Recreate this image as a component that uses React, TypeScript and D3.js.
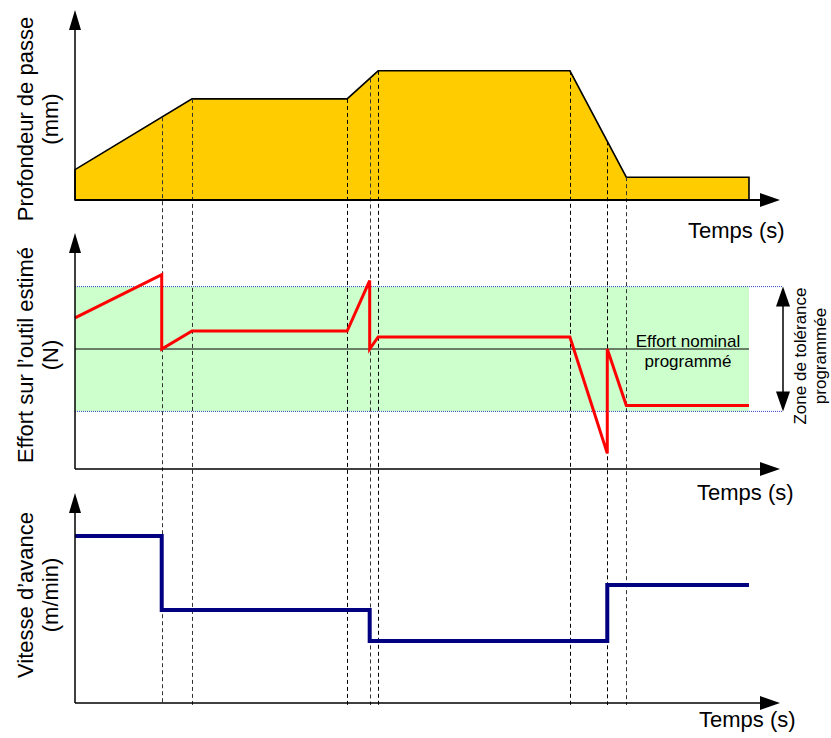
import React from "react";
import * as d3 from "d3";

// ---- Data (time in arbitrary units) ----
const eventTimes = [12.3, 16.6, 38.6, 41.8, 43.0, 70.2, 75.5, 78.2];
const eventDark = [false, false, true, false, true, true, true, false];

const depthT = [0, 16.6, 38.6, 43.0, 70.2, 78.2, 95.6];
const depthV = [1.6, 5.32, 5.32, 6.8, 6.8, 1.2, 1.2];

const forceT = [0, 12.3, 12.3, 16.6, 38.6, 41.8, 41.8, 43.0, 70.2, 75.5, 75.5, 78.2, 95.6];
const forceV = [1.3, 3.1, 0, 0.75, 0.75, 2.85, 0, 0.5, 0.5, -4.35, 0, -2.35, -2.35];
const tolerance = [-2.6, 2.6];
const nominal = 0;

const speedT = [0, 12.3, 41.8, 75.5, 95.6];
const speedV = [7.95, 4.43, 2.95, 5.62, 5.62];

const yLabels = [
  ["Profondeur de passe", "(mm)"],
  ["Effort sur l\u2019outil estimé", "(N)"],
  ["Vitesse d\u2019avance", "(m/min)"],
];
const timeLabel = "Temps (s)";
const nominalLabel = ["Effort nominal", "programmé"];
const zoneLabel = ["Zone de tolérance", "programmée"];

const FONT = "'Liberation Sans', Arial, Helvetica, sans-serif";

export default function App() {
  const x = d3.scaleLinear().domain([0, 100]).range([75, 780]);
  const yDepth = d3.scaleLinear().domain([0, 10]).range([200, 10]);
  const yForce = d3.scaleLinear().domain([-5, 5]).range([469, 229]);
  const ySpeed = d3.scaleLinear().domain([0, 10]).range([703, 493]);

  const panels = [
    { y0: 200, top: 10, label: yLabels[0], labelY: 119, temps: { x: 688, y: 238 } },
    { y0: 469, top: 233, label: yLabels[1], labelY: 355, temps: { x: 697, y: 500 } },
    { y0: 703, top: 493, label: yLabels[2], labelY: 595, temps: { x: 699, y: 727 } },
  ];

  const depthPts: [number, number][] = depthT.map((t, i) => [t, depthV[i]]);
  const areaPts: [number, number][] = [[0, 0], ...depthPts, [depthT[depthT.length - 1], 0]];
  const polyLine = d3
    .line<[number, number]>()
    .x((d) => x(d[0]))
    .y((d) => yDepth(d[1]));
  const depthPath = polyLine(areaPts) + "Z";

  const depthAt = (t: number) => {
    for (let i = 0; i < depthT.length - 1; i++) {
      if (t >= depthT[i] && t <= depthT[i + 1]) {
        const f = (t - depthT[i]) / (depthT[i + 1] - depthT[i]);
        return depthV[i] + f * (depthV[i + 1] - depthV[i]);
      }
    }
    return 0;
  };

  const forcePath = d3
    .line<number>()
    .x((_, i) => x(forceT[i]))
    .y((d) => yForce(d))(forceV);

  const speedPath = d3
    .line<number>()
    .x((_, i) => x(speedT[i]))
    .y((d) => ySpeed(d))
    .curve(d3.curveStepAfter)(speedV);

  const xEnd = x(depthT[depthT.length - 1]);

  return (
    <svg
      width={831}
      height={738}
      style={{ position: "absolute", left: 0, top: 0, background: "#fff" }}
      fontFamily={FONT}
    >
      {/* Tolerance band */}
      <rect
        x={x(0)}
        y={yForce(tolerance[1])}
        width={xEnd - x(0)}
        height={yForce(tolerance[0]) - yForce(tolerance[1])}
        fill="#CCFFCC"
      />
      {tolerance.map((v, i) => (
        <line
          key={i}
          x1={x(0)}
          x2={783}
          y1={yForce(v)}
          y2={yForce(v)}
          stroke="#3344cc"
          strokeWidth={1}
          strokeDasharray="1,1"
        />
      ))}
      <line x1={x(0)} x2={xEnd} y1={yForce(nominal)} y2={yForce(nominal)} stroke="#000" strokeWidth={1.2} />

      {/* Depth profile */}
      <path d={depthPath} fill="#FFCC00" stroke="#000" strokeWidth={1.6} strokeLinejoin="miter" />

      {/* Event dashed lines */}
      {eventTimes.map((t, i) => (
        <line
          key={i}
          x1={Math.round(x(t)) + 0.5}
          x2={Math.round(x(t)) + 0.5}
          y1={yDepth(depthAt(t))}
          y2={705}
          stroke={eventDark[i] ? "#000" : "#333"}
          strokeWidth={1}
          strokeDasharray="4,3"
        />
      ))}

      {/* Force and speed lines */}
      <path d={forcePath || ""} fill="none" stroke="#FF0000" strokeWidth={3} strokeLinejoin="miter" />
      <path d={speedPath || ""} fill="none" stroke="#000080" strokeWidth={4} strokeLinejoin="miter" />

      {/* Axes */}
      {panels.map((p, i) => (
        <g key={i}>
          <line x1={x(0)} x2={x(0)} y1={p.y0} y2={p.top + 18} stroke="#000" strokeWidth={1.5} />
          <path d={`M${x(0)},${p.top} L${x(0) - 6},${p.top + 20} L${x(0) + 6},${p.top + 20} Z`} fill="#000" />
          <line x1={x(0)} x2={762} y1={p.y0} y2={p.y0} stroke="#000" strokeWidth={i === 0 ? 2 : 1.5} />
          <path d={`M780,${p.y0} L760,${p.y0 - 7} L760,${p.y0 + 7} Z`} fill="#000" />
          <text x={p.temps.x} y={p.temps.y} fontSize={22} fill="#000">
            {timeLabel}
          </text>
          <g transform={`translate(33,${p.labelY}) rotate(-90)`}>
            <text x={0} y={0} textAnchor="middle" fontSize={22} fill="#000">
              {p.label[0]}
            </text>
            <text x={0} y={25} textAnchor="middle" fontSize={22} fill="#000">
              {p.label[1]}
            </text>
          </g>
        </g>
      ))}

      {/* Nominal label */}
      <text x={688} y={347} textAnchor="middle" fontSize={17} fill="#000">
        {nominalLabel[0]}
      </text>
      <text x={688} y={367} textAnchor="middle" fontSize={17} fill="#000">
        {nominalLabel[1]}
      </text>

      {/* Tolerance double arrow */}
      <line x1={783} x2={783} y1={yForce(tolerance[1]) + 18} y2={yForce(tolerance[0]) - 18} stroke="#000" strokeWidth={1.5} />
      <path
        d={`M783,${yForce(tolerance[1])} L776,${yForce(tolerance[1]) + 20} L790,${yForce(tolerance[1]) + 20} Z`}
        fill="#000"
      />
      <path
        d={`M783,${yForce(tolerance[0])} L776,${yForce(tolerance[0]) - 20} L790,${yForce(tolerance[0]) - 20} Z`}
        fill="#000"
      />
      <g transform={`translate(806,356) rotate(-90)`}>
        <text x={0} y={0} textAnchor="middle" fontSize={17} fill="#000">
          {zoneLabel[0]}
        </text>
        <text x={0} y={20} textAnchor="middle" fontSize={17} fill="#000">
          {zoneLabel[1]}
        </text>
      </g>
    </svg>
  );
}
